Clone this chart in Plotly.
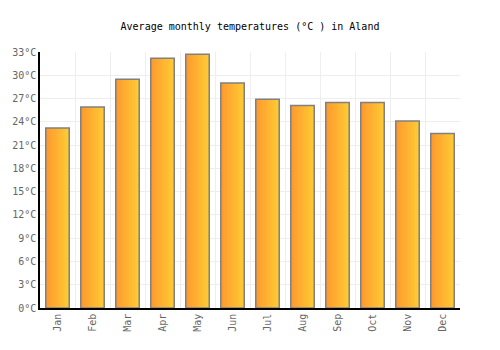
import plotly.graph_objects as go

months = ["Jan", "Feb", "Mar", "Apr", "May", "Jun", "Jul", "Aug", "Sep", "Oct", "Nov", "Dec"]
temps = [23.2, 25.9, 29.5, 32.2, 32.7, 29.0, 26.9, 26.1, 26.5, 26.5, 24.1, 22.5]
y_ticks = list(range(0, 34, 3))
y_tick_labels = [f"{v}°C" for v in y_ticks]

BAR_W = 0.67
N_SLICES = 20
c0 = (255, 152, 46)
c1 = (255, 202, 52)

fig = go.Figure()
sw = BAR_W / N_SLICES
for i in range(N_SLICES):
    t = i / (N_SLICES - 1)
    col = "rgb({},{},{})".format(*[round(a + (b - a) * t) for a, b in zip(c0, c1)])
    fig.add_trace(go.Bar(
        x=months, y=temps,
        width=sw * 1.08, offset=-BAR_W / 2 + i * sw,
        marker=dict(color=col, line=dict(width=0)),
        hoverinfo="skip", showlegend=False,
    ))
# outline
fig.add_trace(go.Bar(
    x=months, y=temps, width=BAR_W,
    marker=dict(color="rgba(0,0,0,0)", line=dict(color="#808080", width=1.5)),
    showlegend=False,
))

fig.update_layout(
    width=500, height=350,
    margin=dict(l=40, r=40, t=52, b=42),
    paper_bgcolor="white", plot_bgcolor="white",
    barmode="overlay",
    font=dict(family="DejaVu Sans Mono", size=10, color="#666666"),
    title=dict(text="Average monthly temperatures (°C ) in Aland", x=0.5, xanchor="center",
               y=1 - 26 / 350, yanchor="middle",
               font=dict(family="DejaVu Sans Mono", size=10, color="#000000")),
    xaxis=dict(
        type="category", tickson="boundaries", showgrid=True, gridcolor="#eeeeee", gridwidth=1,
        showline=True, linecolor="#000000", linewidth=1.5, tickangle=-90, ticks="",
        tickfont=dict(size=10, color="#666666"), range=[-0.5, 11.5],
    ),
    yaxis=dict(
        range=[0, 33], tickvals=y_ticks, ticktext=y_tick_labels, showgrid=True,
        gridcolor="#eeeeee", gridwidth=1, showline=True, linecolor="#000000", linewidth=1.5,
        ticks="", zeroline=False, tickfont=dict(size=10, color="#666666"),
    ),
)
fig.write_html("out.html")
